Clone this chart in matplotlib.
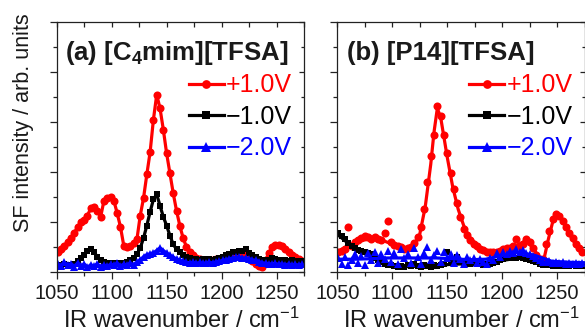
import numpy as np
import matplotlib
matplotlib.use("Agg")
import matplotlib.pyplot as plt
from matplotlib.ticker import MultipleLocator
from matplotlib.lines import Line2D

plt.rcParams['font.family'] = ['Liberation Sans', 'DejaVu Sans']
plt.rcParams['mathtext.fontset'] = 'custom'
plt.rcParams['mathtext.rm'] = 'Liberation Sans'
plt.rcParams['mathtext.bf'] = 'Liberation Sans:bold'
plt.rcParams['mathtext.default'] = 'regular'

# IR wavenumber grid (cm^-1) of the measured points
wavenumber = np.arange(1051, 1275, 3)

# Panel (a) [C4mim][TFSA]
a_pos1 = [0.80, 0.90, 1.05, 1.20, 1.35, 1.55, 1.80, 1.98, 2.07, 2.25,
          2.55, 2.60, 2.45, 2.20, 2.85, 2.95, 3.00, 2.85, 2.35, 1.80,
          1.05, 0.98, 1.05, 1.15, 1.30, 2.25, 2.95, 3.90, 4.80, 6.10,
          7.10, 6.55, 5.70, 4.75, 3.95, 3.15, 2.45, 1.85, 1.35, 1.00,
          0.80, 0.65, 0.55, 0.50, 0.48, 0.47, 0.48, 0.47, 0.50, 0.52,
          0.55, 0.58, 0.62, 0.65, 0.68, 0.72, 0.75, 0.70, 0.55, 0.42,
          0.30, 0.22, 0.18, 0.45, 0.75, 1.00, 1.07, 1.08, 1.05, 0.92,
          0.78, 0.65, 0.58, 0.50, 0.42]
a_neg1 = [0.28, 0.27, 0.30, 0.26, 0.28, 0.32, 0.42, 0.55, 0.67, 0.82,
          0.90, 0.78, 0.60, 0.47, 0.38, 0.35, 0.33, 0.35, 0.34, 0.36,
          0.35, 0.38, 0.45, 0.55, 0.70, 0.95, 1.35, 1.85, 2.40, 2.90,
          3.10, 2.65, 2.20, 1.85, 1.45, 1.10, 0.90, 0.78, 0.68, 0.60,
          0.55, 0.52, 0.50, 0.48, 0.50, 0.47, 0.50, 0.48, 0.52, 0.55,
          0.60, 0.65, 0.72, 0.77, 0.78, 0.82, 0.85, 0.90, 0.75, 0.65,
          0.58, 0.52, 0.48, 0.45, 0.47, 0.55, 0.50, 0.45, 0.44, 0.46,
          0.44, 0.45, 0.43, 0.44, 0.42]
a_neg2 = [0.30, 0.22, 0.38, 0.25, 0.32, 0.20, 0.35, 0.24, 0.30, 0.18,
          0.28, 0.22, 0.32, 0.20, 0.27, 0.22, 0.30, 0.25, 0.33, 0.24,
          0.30, 0.26, 0.35, 0.28, 0.38, 0.48, 0.60, 0.68, 0.72, 0.76,
          0.85, 0.95, 0.85, 0.75, 0.66, 0.58, 0.52, 0.45, 0.42, 0.38,
          0.35, 0.38, 0.34, 0.37, 0.33, 0.36, 0.38, 0.35, 0.40, 0.42,
          0.45, 0.48, 0.52, 0.55, 0.57, 0.58, 0.56, 0.55, 0.52, 0.48,
          0.45, 0.40, 0.36, 0.34, 0.32, 0.30, 0.33, 0.29, 0.32, 0.28,
          0.31, 0.27, 0.30, 0.26, 0.29]

# Panel (b) [P14][TFSA]
b_pos1 = [0.78, 0.85, 0.90, 1.80, 1.05, 1.20, 1.28, 1.35, 1.45, 1.40,
          1.33, 1.40, 1.30, 1.27, 1.55, 2.03, 1.20, 1.08, 1.02, 0.98,
          0.93, 0.95, 0.98, 1.15, 1.40, 1.80, 2.50, 3.60, 4.65, 5.50,
          6.65, 6.25, 5.50, 4.75, 3.95, 3.30, 2.75, 2.20, 1.72, 1.47,
          1.28, 1.13, 1.02, 0.93, 0.86, 0.80, 0.78, 0.80, 0.80, 0.85,
          0.93, 0.95, 0.97, 1.05, 1.30, 1.05, 1.10, 1.33, 1.20, 0.95,
          0.68, 0.52, 0.50, 1.10, 1.65, 2.10, 2.33, 2.25, 2.02, 1.78,
          1.55, 1.35, 1.12, 0.95, 0.80]
b_neg1 = [1.55, 1.45, 1.33, 1.15, 1.05, 0.95, 0.88, 0.82, 0.78, 0.74,
          0.70, 0.55, 0.45, 0.38, 0.32, 0.28, 0.25, 0.22, 0.20, 0.22,
          0.20, 0.25, 0.22, 0.30, 0.24, 0.20, 0.26, 0.22, 0.20, 0.25,
          0.22, 0.28, 0.30, 0.80, 0.35, 0.40, 0.60, 0.38, 0.35, 0.33,
          0.32, 0.34, 0.30, 0.33, 0.28, 0.32, 0.30, 0.35, 0.40, 0.45,
          0.50, 0.55, 0.53, 0.58, 0.55, 0.60, 0.55, 0.52, 0.48, 0.42,
          0.38, 0.32, 0.28, 0.25, 0.27, 0.22, 0.25, 0.24, 0.22, 0.26,
          0.23, 0.25, 0.22, 0.24, 0.21]
b_neg2 = [0.55, 0.30, 0.60, 0.25, 0.45, 0.70, 0.35, 0.62, 0.28, 0.75,
          0.45, 0.80, 0.35, 0.70, 0.50, 0.85, 0.40, 0.75, 0.30, 0.90,
          0.55, 0.70, 0.35, 0.95, 0.60, 0.30, 0.75, 1.00, 0.45, 0.65,
          0.85, 0.40, 0.80, 0.55, 0.70, 0.35, 0.65, 0.50, 0.30, 0.60,
          0.45, 0.55, 0.35, 0.50, 0.40, 0.30, 0.55, 0.45, 0.75, 0.60,
          0.80, 0.70, 0.85, 0.75, 0.90, 0.80, 0.88, 0.75, 0.70, 0.62,
          0.55, 0.45, 0.40, 0.38, 0.42, 0.35, 0.40, 0.33, 0.38, 0.30,
          0.36, 0.32, 0.35, 0.30, 0.33]

# Fitted curves of panel (b)
b_fit_pos1_wn = [1050, 1060, 1070, 1080, 1090, 1100, 1110, 1115, 1120, 1125,
                 1130, 1135, 1138, 1141, 1144, 1147, 1150, 1155, 1160, 1165,
                 1170, 1180, 1190, 1200, 1210, 1215, 1222, 1228, 1234, 1238,
                 1242, 1246, 1250, 1254, 1260, 1266, 1272, 1275]
b_fit_pos1 = [0.80, 1.05, 1.25, 1.30, 1.28, 1.10, 0.95, 0.92, 1.05, 1.50,
              2.60, 4.30, 5.60, 6.55, 6.20, 5.40, 4.60, 3.40, 2.50, 1.85,
              1.40, 0.95, 0.80, 0.85, 1.00, 1.10, 1.25, 0.95, 0.55, 0.50,
              1.30, 2.00, 2.33, 2.15, 1.60, 1.15, 0.85, 0.75]
b_fit_neg_wn = [1050, 1065, 1080, 1095, 1110, 1125, 1140, 1155, 1170, 1185,
                1200, 1215, 1230, 1245, 1260, 1275]
b_fit_neg1 = [1.50, 0.95, 0.60, 0.30, 0.20, 0.22, 0.25, 0.30, 0.32, 0.35,
              0.45, 0.55, 0.45, 0.28, 0.25, 0.25]
b_fit_neg2 = [0.50, 0.50, 0.52, 0.55, 0.55, 0.55, 0.55, 0.52, 0.48, 0.50,
              0.65, 0.78, 0.65, 0.42, 0.38, 0.36]

labels = ["+1.0V", "\u22121.0V", "\u22122.0V"]
colors = ["#ff0000", "#000000", "#0000ff"]
markers = ["o", "s", "^"]
msizes = [5.8, 5.0, 6.0]
titles = ["(a) [C$_\\mathbf{4}$mim][TFSA]", "(b) [P14][TFSA]"]
xticks = [1050, 1100, 1150, 1200, 1250]

W, H = 585, 333
fig = plt.figure(figsize=(W / 100, H / 100), dpi=100)

lefts = [56.7, 337.3]
axw, axb, axh = 247.3, 333 - 271.7, 249.4
title_x = [65, 346.7]
xlabel_cx = [181, 461]
txtc = "#1a1a1a"
LW = 2.3


def style_axes(ax):
    ax.set_xlim(1050, 1275)
    ax.set_ylim(0, 10)
    ax.set_xticks(xticks)
    ax.xaxis.set_minor_locator(MultipleLocator(25))
    ax.yaxis.set_major_locator(MultipleLocator(2))
    ax.yaxis.set_minor_locator(MultipleLocator(1))
    ax.tick_params(axis='both', which='major', direction='out', length=5, width=0.9,
                   labelsize=14.5, labelcolor=txtc, color='#222222')
    ax.tick_params(axis='both', which='minor', direction='out', length=3, width=0.9,
                   color='#222222')
    ax.tick_params(axis='y', which='both', labelleft=False)
    for s in ax.spines.values():
        s.set_linewidth(0.9)
        s.set_color('#222222')
    top = ax.secondary_xaxis('top')
    top.set_xticks(xticks)
    top.xaxis.set_minor_locator(MultipleLocator(25))
    top.tick_params(which='both', direction='in', length=3.5, width=0.9,
                    labeltop=False, color='#222222')
    top.spines['top'].set_visible(False)
    right = ax.secondary_yaxis('right')
    right.yaxis.set_major_locator(MultipleLocator(2))
    right.yaxis.set_minor_locator(MultipleLocator(1))
    right.tick_params(which='major', direction='in', length=3.5, width=0.9,
                      labelright=False, color='#222222')
    right.tick_params(which='minor', direction='in', length=2.5, width=0.9,
                      labelright=False, color='#222222')
    right.spines['right'].set_visible(False)


axes = []
for i in range(2):
    axes.append(fig.add_axes([lefts[i] / W, axb / H, axw / W, axh / H]))

# panel (a): points joined by the fitted line (which follows them closely)
ax = axes[0]
for ys, c, m, ms in zip((a_pos1, a_neg1, a_neg2), colors, markers, msizes):
    ax.plot(wavenumber, ys, color=c, marker=m, markersize=ms, lw=LW,
            markeredgewidth=0)

# panel (b): scattered points plus fitted curves
ax = axes[1]
fits = [(b_fit_pos1_wn, b_fit_pos1), (b_fit_neg_wn, b_fit_neg1), (b_fit_neg_wn, b_fit_neg2)]
for ys, (fx, fy), c, m, ms in zip((b_pos1, b_neg1, b_neg2), fits, colors, markers, msizes):
    ax.plot(wavenumber, ys, color=c, marker=m, markersize=ms, lw=0,
            markeredgewidth=0)
    ax.plot(fx, fy, color=c, lw=LW)

handles = [Line2D([], [], color=c, marker=m, markersize=ms + 0.5, lw=LW,
                  markeredgewidth=0)
           for c, m, ms in zip(colors, markers, msizes)]

for i, ax in enumerate(axes):
    style_axes(ax)
    ax.legend(handles, labels, loc='upper right', bbox_to_anchor=(0.952, 0.795),
              frameon=False, fontsize=18, handlelength=1.4,
              handletextpad=0.1, labelspacing=0.3, borderpad=0,
              borderaxespad=0, numpoints=1, labelcolor='linecolor')
    fig.text(title_x[i] / W, (H - 60) / H, titles[i], fontsize=18.5,
             fontweight='bold', color=txtc, ha='left', va='baseline')
    fig.text(xlabel_cx[i] / W, (H - 328) / H, "IR wavenumber / cm$^{-1}$",
             fontsize=17, color=txtc, ha='center', va='baseline')

fig.text(24 / W, (H - 122.5) / H, "SF intensity / arb. units", fontsize=15.5,
         color=txtc, rotation=90, ha='center', va='center')

fig.savefig("out.png", dpi=100)
